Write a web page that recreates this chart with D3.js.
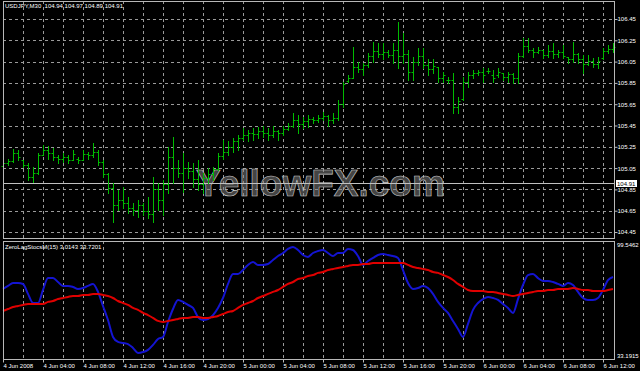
<!DOCTYPE html>
<html>
<head>
<meta charset="utf-8">
<script src="https://cdn.jsdelivr.net/npm/d3@7"></script>
<style>
html, body { margin: 0; padding: 0; background: #000; }
svg { display: block; }
text { font-family: "Liberation Sans", Arial, sans-serif; }
</style>
</head>
<body>
<div id="chart"></div>
<script>
// USDJPY M30 bars, 4 Jun 2008 00:00 onwards (one bar every 30 min)
var opens = [105.07,105.10,105.12,105.19,105.13,105.08,104.97,105.00,105.17,105.22,
  105.19,105.15,105.14,105.15,105.13,105.14,105.13,105.18,105.17,105.20,
  105.11,104.99,104.86,104.70,104.75,104.72,104.68,104.66,104.70,104.65,
  104.62,104.85,104.75,104.90,105.15,105.05,105.00,105.05,105.02,104.95,
  104.90,104.96,104.99,105.04,105.16,105.20,105.25,105.30,105.33,105.36,
  105.38,105.37,105.40,105.38,105.36,105.40,105.38,105.42,105.45,105.50,
  105.46,105.49,105.51,105.50,105.52,105.54,105.50,105.52,105.65,105.87,
  105.90,106.00,105.98,106.02,106.10,106.15,106.12,106.14,106.11,106.16,
  106.10,106.12,105.95,106.05,106.10,106.02,105.98,106.00,105.90,105.88,
  105.88,105.62,105.70,105.86,105.92,105.94,105.95,105.96,105.92,105.92,
  105.94,105.91,105.93,105.90,106.10,106.20,106.16,106.14,106.16,106.11,
  106.15,106.12,106.14,106.09,106.07,106.12,106.07,106.03,106.06,106.03,
  106.08,106.15,106.17];
var highs = [105.13,105.14,105.23,105.22,105.13,105.10,105.06,105.19,105.27,105.26,
  105.24,105.17,105.19,105.17,105.22,105.15,105.22,105.20,105.29,105.22,
  105.13,105.00,104.91,104.84,104.87,104.78,104.72,104.75,104.72,104.78,
  104.97,104.91,104.94,105.25,105.34,105.13,105.19,105.11,105.10,105.13,
  105.00,105.05,105.06,105.19,105.31,105.30,105.33,105.36,105.43,105.41,
  105.43,105.44,105.45,105.43,105.45,105.41,105.45,105.47,105.57,105.55,
  105.53,105.55,105.53,105.55,105.58,105.55,105.57,105.69,105.86,105.92,
  106.19,106.05,106.04,106.13,106.23,106.22,106.22,106.16,106.22,106.42,
  106.32,106.16,106.09,106.18,106.18,106.07,106.07,106.00,105.95,105.91,
  105.94,105.72,105.91,105.95,105.97,105.97,105.99,105.99,105.97,105.99,
  105.94,105.95,105.94,106.13,106.27,106.27,106.18,106.19,106.16,106.21,
  106.22,106.16,106.21,106.09,106.23,106.13,106.11,106.11,106.08,106.09,
  106.18,106.21,106.22];
var lows = [105.05,105.08,105.11,105.13,105.06,104.94,104.92,104.99,105.17,105.14,
  105.13,105.10,105.11,105.10,105.13,105.10,105.13,105.14,105.15,105.08,
  104.97,104.82,104.54,104.66,104.68,104.63,104.61,104.59,104.61,104.58,
  104.54,104.66,104.61,104.82,104.91,104.97,104.83,104.96,104.87,104.84,
  104.82,104.91,104.94,105.03,105.14,105.17,105.20,105.22,105.31,105.30,
  105.31,105.33,105.34,105.31,105.34,105.31,105.36,105.41,105.44,105.38,
  105.43,105.44,105.47,105.48,105.50,105.45,105.47,105.50,105.62,105.86,
  105.90,105.95,105.92,106.00,106.05,106.09,106.07,106.09,106.04,105.99,
  106.04,105.88,105.88,106.02,105.99,105.92,105.94,105.86,105.86,105.85,
  105.57,105.57,105.69,105.81,105.90,105.92,105.86,105.94,105.86,105.91,
  105.88,105.86,105.85,105.85,106.09,106.14,106.09,106.13,106.08,106.09,
  106.08,106.09,106.08,106.04,106.05,106.04,105.94,106.02,106.00,105.99,
  106.07,106.13,106.14];
var closes = [105.10,105.12,105.19,105.15,105.08,104.97,105.00,105.17,105.22,105.19,
  105.15,105.14,105.15,105.13,105.18,105.13,105.18,105.17,105.20,105.11,
  104.99,104.86,104.70,104.75,104.72,104.68,104.66,104.70,104.65,104.62,
  104.85,104.75,104.90,105.15,105.05,105.00,105.05,105.02,104.95,104.90,
  104.96,104.99,105.04,105.16,105.20,105.25,105.30,105.33,105.36,105.38,
  105.37,105.40,105.38,105.36,105.40,105.38,105.42,105.45,105.50,105.46,
  105.49,105.51,105.50,105.52,105.54,105.50,105.52,105.65,105.84,105.90,
  106.00,105.98,106.02,106.10,106.15,106.12,106.14,106.11,106.16,106.10,
  106.12,105.95,106.05,106.10,106.02,105.98,106.01,105.90,105.92,105.88,
  105.62,105.68,105.86,105.92,105.94,105.95,105.92,105.96,105.90,105.95,
  105.91,105.93,105.90,106.10,106.20,106.16,106.14,106.16,106.11,106.15,
  106.12,106.14,106.10,106.07,106.12,106.07,106.03,106.06,106.03,106.06,
  106.15,106.17,106.19];

// ZeroLagStocsM(15) main (blue) and signal (red) lines, one value per bar
var stochMain = [72.6,74.3,75.9,75.9,75.4,69.8,64.7,64.7,72.0,78.7,
  78.7,76.5,74.3,74.3,73.7,72.6,73.1,74.3,75.4,70.9,
  63.0,55.1,45.6,42.8,42.2,41.6,39.4,36.6,37.1,38.3,
  41.1,44.4,45.6,54.0,61.3,66.4,65.3,63.6,61.9,56.8,
  55.1,55.7,57.9,61.9,67.5,75.4,81.0,81.0,83.2,86.1,
  87.7,86.1,86.1,86.6,88.9,91.1,92.8,95.1,96.2,94.5,
  91.7,90.6,92.8,93.9,94.5,92.8,91.1,92.8,92.8,95.1,
  94.5,91.1,86.1,88.3,90.0,91.7,92.2,91.7,91.1,90.0,
  83.2,75.9,72.6,73.1,74.3,73.1,69.8,65.3,61.9,59.1,
  54.6,50.1,45.6,52.9,60.8,64.7,66.9,68.1,67.5,66.4,
  64.1,61.9,59.1,66.9,74.8,80.4,81.0,78.7,77.1,77.1,
  76.5,75.4,74.3,75.9,74.8,70.9,67.5,66.4,66.4,67.5,
  72.0,77.6,79.3];
var stochSignal = [60.2,61.3,62.4,63.0,63.6,64.1,64.1,64.1,64.1,65.3,
  65.8,66.9,67.5,68.1,68.6,68.6,69.2,69.2,69.8,69.8,
  69.2,68.6,67.5,65.8,64.7,63.6,61.9,60.8,59.1,57.9,
  56.3,54.6,54.0,54.6,55.1,55.7,56.3,56.3,56.8,56.8,
  56.3,56.3,56.8,57.4,58.5,59.6,60.2,61.9,63.6,64.7,
  65.8,67.5,68.6,69.8,70.9,72.0,73.7,75.4,76.5,78.2,
  78.7,79.9,80.4,81.6,82.1,83.2,83.8,84.4,84.9,85.5,
  86.1,86.1,86.6,86.6,87.2,87.2,87.2,87.2,87.2,87.2,
  87.2,86.1,84.9,84.4,83.8,83.2,82.1,81.6,80.4,79.3,
  77.6,75.4,73.7,72.0,71.4,71.4,71.4,70.9,70.9,70.3,
  69.8,69.2,68.6,69.2,69.8,70.3,70.9,71.4,71.4,72.0,
  72.0,72.6,72.6,72.6,73.1,72.6,72.0,72.0,71.4,71.4,
  71.4,72.0,72.6];

var priceTicks = [104.45,104.65,104.85,105.05,105.25,105.45,105.65,105.85,106.05,106.25,106.45];
var timeLabels = ["4 Jun 2008","4 Jun 04:00","4 Jun 08:00","4 Jun 12:00","4 Jun 16:00","4 Jun 20:00",
  "5 Jun 00:00","5 Jun 04:00","5 Jun 08:00","5 Jun 12:00","5 Jun 16:00","5 Jun 20:00",
  "6 Jun 00:00","6 Jun 04:00","6 Jun 08:00","6 Jun 12:00"];
var bidPrice = 104.91;
var stochMin = 33.1915, stochMax = 99.5462;
var titleMain = "USDJPY,M30  104.94 104.97 104.89 104.91";
var titleInd = "ZeroLagStocsM(15) 3.0143 33.7201";

var W = 640, H = 371;
var left = 3, right = 614;
var main = {top: 1, bottom: 238};
var ind = {top: 241, bottom: 359};
var gridColor = "#9a9a9a", frameColor = "#b8b8b8", barColor = "#00bb00";

var t0 = new Date(2008, 5, 4, 0, 0);
var barTime = function (i) { return new Date(t0.getTime() + i * 30 * 60000); };
var tickDates = timeLabels.map(function (d, i) { return new Date(t0.getTime() + i * 4 * 3600000); });

var x = d3.scaleTime()
  .domain([t0, new Date(2008, 5, 6, 12, 0)])
  .range([3, 603]);
var y = d3.scaleLinear().domain([104.45, 106.45]).range([232, 19]);
var yi = d3.scaleLinear().domain([stochMin, stochMax]).range([ind.bottom, ind.top]);

var svg = d3.select("#chart").append("svg")
  .attr("width", W)
  .attr("height", H);
svg.append("rect").attr("width", W).attr("height", H).attr("fill", "#000");

// vertical grid every 2 hours, both panels
var gridDates = d3.timeHour.every(2).range(t0, new Date(2008, 5, 6, 13, 1));
[main, ind].forEach(function (p) {
  svg.append("g").selectAll("line")
    .data(gridDates)
    .enter().append("line")
    .attr("x1", function (d) { return Math.round(x(d)) + 0.5; })
    .attr("x2", function (d) { return Math.round(x(d)) + 0.5; })
    .attr("y1", p.top)
    .attr("y2", p.bottom)
    .attr("stroke", gridColor)
    .attr("stroke-dasharray", "3,3");
});

// horizontal grid in price panel
svg.append("g").selectAll("line")
  .data(priceTicks)
  .enter().append("line")
  .attr("x1", left)
  .attr("x2", right)
  .attr("y1", function (d) { return Math.round(y(d)) + 0.5; })
  .attr("y2", function (d) { return Math.round(y(d)) + 0.5; })
  .attr("stroke", gridColor)
  .attr("stroke-dasharray", "3,3");

// watermark
svg.append("text")
  .attr("x", 196)
  .attr("y", 196)
  .attr("font-family", "Liberation Serif, serif")
  .attr("font-weight", "bold")
  .attr("font-size", 37)
  .attr("fill", "#808080")
  .attr("fill-opacity", 0.55)
  .attr("stroke", "#c8c8c8")
  .attr("stroke-width", 0.6)
  .text("YellowFX.com");

// bid line
svg.append("line")
  .attr("x1", left).attr("x2", right)
  .attr("y1", Math.round(y(bidPrice)) + 0.5)
  .attr("y2", Math.round(y(bidPrice)) + 0.5)
  .attr("stroke", "#c0c0c0");

// price bars: high-low line, open tick left, close tick right
var bx = function (i) { return Math.round(x(barTime(i))) + 0.5; };
var bar = svg.append("g").attr("stroke", barColor)
  .selectAll("g")
  .data(highs)
  .enter().append("g");
bar.append("line")
  .attr("x1", function (d, i) { return bx(i); })
  .attr("x2", function (d, i) { return bx(i); })
  .attr("y1", function (d) { return Math.round(y(d)); })
  .attr("y2", function (d, i) { return Math.round(y(lows[i])) + 1; });
bar.append("line")
  .attr("x1", function (d, i) { return bx(i) - 2; })
  .attr("x2", function (d, i) { return bx(i); })
  .attr("y1", function (d, i) { return Math.round(y(opens[i])) + 0.5; })
  .attr("y2", function (d, i) { return Math.round(y(opens[i])) + 0.5; });
bar.append("line")
  .attr("x1", function (d, i) { return bx(i); })
  .attr("x2", function (d, i) { return bx(i) + 2; })
  .attr("y1", function (d, i) { return Math.round(y(closes[i])) + 0.5; })
  .attr("y2", function (d, i) { return Math.round(y(closes[i])) + 0.5; });

// indicator lines
var stochLine = d3.line()
  .x(function (d, i) { return x(barTime(i)); })
  .y(function (d) { return yi(d); })
  .curve(d3.curveMonotoneX);

svg.append("path")
  .datum(stochMain)
  .attr("d", stochLine)
  .attr("fill", "none")
  .attr("stroke", "#1414d2")
  .attr("stroke-width", 2);

svg.append("path")
  .datum(stochSignal)
  .attr("d", stochLine)
  .attr("fill", "none")
  .attr("stroke", "#e00000")
  .attr("stroke-width", 2);

// frames
[main, ind].forEach(function (p) {
  svg.append("rect")
    .attr("x", left + 0.5)
    .attr("y", p.top + 0.5)
    .attr("width", right - left)
    .attr("height", p.bottom - p.top)
    .attr("fill", "none")
    .attr("stroke", frameColor);
});

// price axis
var yAxis = svg.append("g")
  .attr("transform", "translate(" + (right + 0.5) + ",0)")
  .call(d3.axisRight(y).tickValues(priceTicks).tickFormat(d3.format(".2f")).tickSize(3));
yAxis.select(".domain").remove();
yAxis.selectAll("line").attr("stroke", frameColor);
yAxis.selectAll("text")
  .attr("fill", "#fff")
  .attr("font-size", 6)
  .attr("x", 3)
  .attr("font-family", "Liberation Sans, Arial, sans-serif");

// bid label
var bidY = Math.round(y(bidPrice));
svg.append("rect")
  .attr("x", 616).attr("y", bidY - 3)
  .attr("width", 21).attr("height", 7)
  .attr("fill", "#fff");
svg.append("text")
  .attr("x", 617).attr("y", bidY + 2.5)
  .attr("font-size", 6)
  .attr("fill", "#000")
  .text(d3.format(".2f")(bidPrice));

// indicator scale labels
svg.append("text")
  .attr("x", 617).attr("y", ind.top + 6)
  .attr("font-size", 6).attr("fill", "#fff")
  .text(stochMax);
svg.append("text")
  .attr("x", 617).attr("y", ind.bottom - 1)
  .attr("font-size", 6).attr("fill", "#fff")
  .text(stochMin);

// time axis
var xAxis = svg.append("g")
  .attr("transform", "translate(0," + (ind.bottom + 0.5) + ")")
  .call(d3.axisBottom(x).tickValues(tickDates)
    .tickFormat(function (d, i) { return timeLabels[i]; })
    .tickSize(3));
xAxis.select(".domain").remove();
xAxis.selectAll("line").attr("stroke", frameColor);
xAxis.selectAll("text")
  .attr("fill", "#fff")
  .attr("font-size", 6)
  .attr("text-anchor", "start")
  .attr("y", 4)
  .attr("dy", "0.71em")
  .attr("font-family", "Liberation Sans, Arial, sans-serif");

// titles
svg.append("text")
  .attr("x", 5).attr("y", 8)
  .attr("font-size", 6).attr("fill", "#fff")
  .style("white-space", "pre")
  .text(titleMain);
svg.append("text")
  .attr("x", 5).attr("y", 249)
  .attr("font-size", 6).attr("fill", "#fff")
  .text(titleInd);
</script>
</body>
</html>
